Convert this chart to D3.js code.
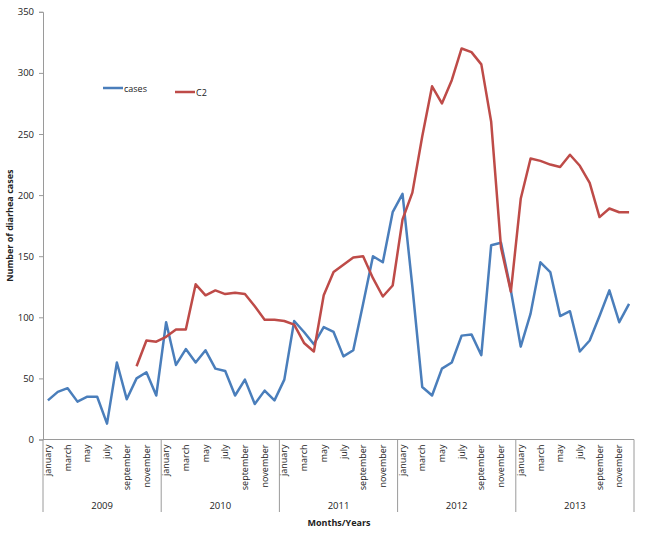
<!DOCTYPE html>
<html><head><meta charset="utf-8">
<script src="https://cdn.jsdelivr.net/npm/d3@7"></script>
<style>body{margin:0;background:#fff}svg{display:block}text{font-family:"Open Sans","Liberation Sans",sans-serif;fill:#222}</style>
</head><body><svg id="c" width="655" height="540"></svg>
<script>
const years = ["2009","2010","2011","2012","2013"];
const monthNames = ["january","february","march","april","may","june","july","august","september","october","november","december"];
const cases = [32,39,42,31,35,35,13,63,33,50,55,36,
  96,61,74,63,73,58,56,36,49,29,40,32,
  49,97,88,78,92,88,68,73,111,150,145,186,
  201,125,43,36,58,63,85,86,69,159,161,122,
  76,103,145,137,101,105,72,81,101,122,96,111];
const c2 = [null,null,null,null,null,null,null,null,null,60,81,80,
  84,90,90,127,118,122,119,120,119,109,98,98,
  97,94,79,72,118,137,143,149,150,132,117,126,
  180,202,248,289,275,294,320,317,307,260,157,121,
  197,230,228,225,223,233,224,210,182,189,186,186];
const yTicks = [0,50,100,150,200,250,300,350];

const svg = d3.select("#c");
const L = 43, R = 634, T = 11.8, B = 439.5;
const idx = d3.range(years.length * 12);
const x = d3.scaleBand().domain(idx).range([L, R]).padding(0);
const y = d3.scaleLinear().domain([0, 350]).range([B, T]);
const cx = i => x(i) + x.bandwidth() / 2;
const axisCol = "#9a9a9a";

// y axis
const ya = svg.append("g").attr("transform", `translate(${L},0)`)
  .call(d3.axisLeft(y).tickValues(yTicks).tickSize(4).tickPadding(5));
ya.select(".domain").attr("stroke", axisCol);
ya.selectAll(".tick line").attr("stroke", axisCol);
ya.selectAll(".tick text").style("font-size", "9.5px").attr("fill", "#222");

// x axis baseline
svg.append("line").attr("x1", L).attr("x2", R).attr("y1", B).attr("y2", B).attr("stroke", axisCol);
// year dividers
const yearBounds = d3.range(years.length + 1).map(k => k === years.length ? R : x(k * 12));
svg.selectAll(".div").data(yearBounds).join("line")
  .attr("x1", d => d).attr("x2", d => d).attr("y1", B).attr("y2", 512)
  .attr("stroke", axisCol);

// month labels
svg.selectAll(".ml").data(idx.filter(i => i % 2 === 0)).join("text")
  .attr("transform", i => `translate(${cx(i)},${B + 5}) rotate(-90)`)
  .attr("text-anchor", "end").attr("dy", "0.35em")
  .style("font-size", "9px").text(i => monthNames[i % 12]);
// year labels
svg.selectAll(".yl").data(years).join("text")
  .attr("x", (d, k) => (yearBounds[k] + yearBounds[k + 1]) / 2).attr("y", 509)
  .attr("text-anchor", "middle").style("font-size", "9.5px").text(d => d);

// titles
svg.append("text").attr("transform", `translate(13,${(T + B) / 2}) rotate(-90)`)
  .attr("text-anchor", "middle").style("font-size", "9px").style("font-weight", "bold")
  .text("Number of diarhea cases");
svg.append("text").attr("x", 339).attr("y", 526).attr("text-anchor", "middle")
  .style("font-size", "9px").style("font-weight", "bold").text("Months/Years");

// lines
const line = d3.line().defined(d => d.v != null).x(d => cx(d.i)).y(d => y(d.v));
const series = [
  {name: "cases", vals: cases, color: "#4a7ebb"},
  {name: "C2", vals: c2, color: "#be4b48"}
];
series.forEach(s => {
  svg.append("path").datum(s.vals.map((v, i) => ({i, v})))
    .attr("d", line).attr("fill", "none").attr("stroke", s.color)
    .attr("stroke-width", 2.5).attr("stroke-linejoin", "round");
});

// legend
const leg = [{x: 103, y: 88}, {x: 175, y: 92}];
series.forEach((s, k) => {
  svg.append("line").attr("x1", leg[k].x).attr("x2", leg[k].x + 20)
    .attr("y1", leg[k].y).attr("y2", leg[k].y).attr("stroke", s.color).attr("stroke-width", 2.5);
  svg.append("text").attr("x", leg[k].x + 21).attr("y", leg[k].y + 3.5)
    .style("font-size", "9px").text(s.name);
});
</script></body></html>
